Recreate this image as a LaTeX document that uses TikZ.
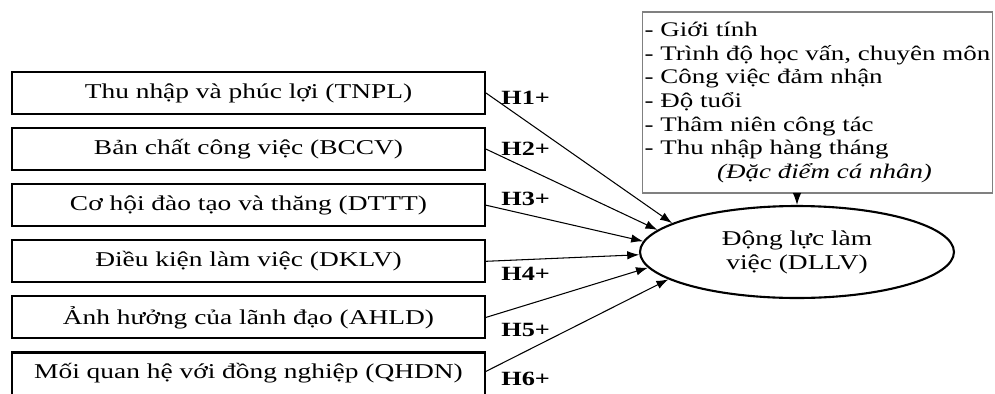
\documentclass[tikz,border=0pt]{standalone}
\usepackage{fontspec}
\setmainfont{Liberation Serif}[FakeStretch=1.3]
\usetikzlibrary{positioning,shapes.geometric,arrows.meta}

\tikzset{
	factor/.style={draw, line width=1.2pt, minimum width=9.46cm, minimum height=0.84cm, inner sep=0pt, font=\fontsize{12}{14}\selectfont},
	hyp/.style={inner sep=0pt, font=\bfseries\fontsize{11.5}{13}\selectfont},
	link/.style={-{Latex[length=0.24cm,width=0.17cm]}, line width=0.6pt},
}

\begin{document}
\begin{tikzpicture}[x=0.02cm, y=-0.02cm, node distance=0.24cm]
	\useasboundingbox (0,0) rectangle (995,393);
	\clip (0,0) rectangle (995,393);
	% cac nhan to
	\node(TNPL)		[factor] at (248.5,93)		{Thu nhập và phúc lợi (TNPL)};
	\node(BCCV)		[factor, below=of TNPL]		{Bản chất công việc (BCCV)};
	\node(DTTT)		[factor, below=of BCCV]		{Cơ hội đào tạo và thăng (DTTT)};
	\node(DKLV)		[factor, below=of DTTT]		{Điều kiện làm việc (DKLV)};
	\node(AHLD)		[factor, below=of DKLV]		{Ảnh hưởng của lãnh đạo (AHLD)};
	% o cuoi bi cat o mep duoi
	\node(QHDN)		[factor, below=of AHLD, minimum height=1.2cm, text depth=0.45cm]	{Mối quan hệ với đồng nghiệp (QHDN)};
	% bien phu thuoc
	\node(DLLV)		[ellipse, draw, line width=1.2pt, minimum width=6.28cm, minimum height=1.84cm, inner sep=0pt, align=center, font=\fontsize{12}{13.7}\selectfont] at (797,252)	{Động lực làm\\việc (DLLV)};
	\node(CaNhan)	[draw=gray, line width=0.6pt, minimum width=7.02cm, minimum height=3.62cm, inner xsep=0.5pt, inner ysep=0pt, align=left, font=\fontsize{11.8}{13.4}\selectfont] at (817.5,102.5)
		{- Giới tính\\- Trình độ học vấn, chuyên môn\\- Công việc đảm nhận\\- Độ tuổi\\- Thâm niên công tác\\- Thu nhập hàng tháng\\\hspace*{1.45cm}\textit{(Đặc điểm cá nhân)}};
	% gia thuyet
	\node(H1)		[hyp, right=0.3cm of TNPL.east, yshift=-0.1cm]	{H1+};
	\node(H2)		[hyp, right=0.3cm of BCCV.east]				{H2+};
	\node(H3)		[hyp, right=0.3cm of DTTT.east, yshift=0.12cm]	{H3+};
	\node(H4)		[hyp, right=0.3cm of DKLV.east, yshift=-0.26cm]	{H4+};
	\node(H5)		[hyp, right=0.3cm of AHLD.east, yshift=-0.26cm]	{H5+};
	\node(H6)		[hyp, right=0.3cm of QHDN.east, yshift=0.08cm]	{H6+};
	\draw[link](TNPL.east)	-- (DLLV.167);
	\draw[link](BCCV.east)	-- (DLLV.171);
	\draw[link](DTTT.east)	-- (DLLV.176);
	\draw[link](DKLV.east)	-- (DLLV.181);
	\draw[link](AHLD.east)	-- (DLLV.186);
	\draw[link](QHDN.east |- H6.north)	-- (DLLV.192);
	\draw[link](CaNhan.south -| DLLV.north)	-- (DLLV.north);
\end{tikzpicture}
\end{document}
